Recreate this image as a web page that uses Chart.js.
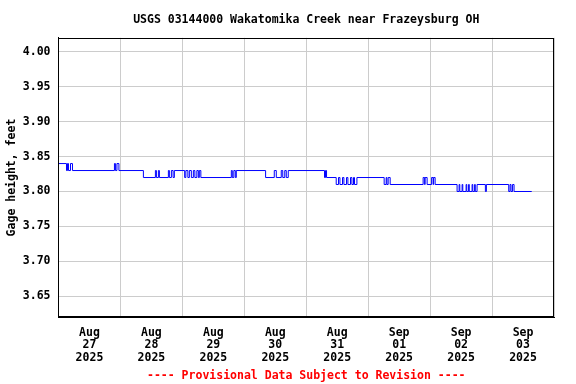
<!DOCTYPE html>
<html>
<head>
<meta charset="utf-8">
<title>USGS 03144000 Wakatomika Creek near Frazeysburg OH</title>
<script src="https://cdn.jsdelivr.net/npm/chart.js@4"></script>
<style>
    html, body { margin: 0; padding: 0; background: #fff; }
    #wrap { width: 576px; height: 384px; }
</style>
</head>
<body>
<div id="wrap"><canvas id="gage-chart" width="576" height="384"></canvas></div>
<script>
// Data: hours since Aug 27 2025 00:00 where the gage height changes, and the new value
const changeHours = [
    0, 3.10, 3.48, 3.87, 4.65, 5.42,
    21.68, 22.06, 22.65, 23.42,
    32.90, 37.55, 37.94, 38.71, 39.10,
    42.58, 42.97, 43.74, 44.40, 44.90,
    48.89, 49.35, 50.13, 50.71, 51.48, 52.26, 52.84, 53.61, 54.19, 54.58, 55.16,
    66.97, 67.35, 67.94, 68.52, 68.90,
    80.25, 83.61, 84.39, 86.32, 86.90, 87.68, 88.26, 89.03,
    103.08, 103.47, 103.86,
    107.61, 108.50, 109.05, 110.05, 110.59, 111.60, 112.14, 113.15, 113.69, 114.31, 114.70, 115.63,
    126.19, 126.97, 127.24, 127.74, 128.52,
    141.29, 141.87, 142.06, 142.84, 144.58, 145.16, 145.35, 145.94,
    154.45, 155.23, 155.50, 156.39, 156.66, 157.94, 158.21, 158.90, 159.17, 160.26, 160.53, 161.23, 161.50, 162.19,
    165.41, 165.80,
    174.46, 174.97, 175.35, 175.94, 176.52,
    183.37
];
const changeValues = [
    3.84, 3.83, 3.84, 3.83, 3.84, 3.83,
    3.84, 3.83, 3.84, 3.83,
    3.82, 3.83, 3.82, 3.83, 3.82,
    3.83, 3.82, 3.83, 3.82, 3.83,
    3.82, 3.83, 3.82, 3.83, 3.82, 3.83, 3.82, 3.83, 3.82, 3.83, 3.82,
    3.83, 3.82, 3.83, 3.82, 3.83,
    3.82, 3.83, 3.82, 3.83, 3.82, 3.83, 3.82, 3.83,
    3.82, 3.83, 3.82,
    3.81, 3.82, 3.81, 3.82, 3.81, 3.82, 3.81, 3.82, 3.81, 3.82, 3.81, 3.82,
    3.81, 3.82, 3.81, 3.82, 3.81,
    3.82, 3.81, 3.82, 3.81, 3.82, 3.81, 3.82, 3.81,
    3.80, 3.81, 3.80, 3.81, 3.80, 3.81, 3.80, 3.81, 3.80, 3.81, 3.80, 3.81, 3.80, 3.81,
    3.80, 3.81,
    3.80, 3.81, 3.80, 3.81, 3.80,
    3.80
];
const dayLabels = [
    ['Aug', '27', '2025'], ['Aug', '28', '2025'], ['Aug', '29', '2025'], ['Aug', '30', '2025'],
    ['Aug', '31', '2025'], ['Sep', '01', '2025'], ['Sep', '02', '2025'], ['Sep', '03', '2025']
];
const yTicks = [3.65, 3.70, 3.75, 3.80, 3.85, 3.90, 3.95, 4.00];

const FONT = { family: '"DejaVu Sans Mono", monospace', size: 11.5, weight: 'bold' };
const GRID = '#cccccc';

// frame around the plot area (top and right sides)
const frame = {
    id: 'frame',
    afterDraw(chart) {
        const { ctx, chartArea: a } = chart;
        ctx.save();
        ctx.strokeStyle = '#000';
        ctx.lineWidth = 1;
        ctx.strokeRect(Math.round(a.left) + 0.5, Math.round(a.top) + 0.5,
            Math.round(a.right - a.left) - 1, Math.round(a.bottom - a.top) - 1);
        ctx.restore();
    }
};

function init() {
    const ctx = document.getElementById('gage-chart').getContext('2d');
    new Chart(ctx, {
        type: 'line',
        data: {
            datasets: [{
                data: changeHours.map((h, i) => ({ x: h, y: changeValues[i] })),
                borderColor: '#0000ff',
                borderWidth: 1,
                pointRadius: 0,
                stepped: true,
                fill: false
            }]
        },
        options: {
            responsive: false,
            animation: false,
            devicePixelRatio: 1,
            layout: { padding: { left: 0, right: 22, top: 0, bottom: 0 } },
            plugins: {
                legend: { display: false },
                tooltip: { enabled: false }
            },
            scales: {
                // top axis only carries the chart title, centred over the plot
                xTop: {
                    type: 'linear',
                    position: 'top',
                    min: 0,
                    max: 192,
                    grid: { display: false, drawTicks: false },
                    border: { display: false },
                    ticks: { display: false },
                    title: {
                        display: true,
                        text: 'USGS 03144000 Wakatomika Creek near Frazeysburg OH',
                        color: '#000',
                        font: FONT,
                        padding: { top: 13, bottom: 11 }
                    }
                },
                x: {
                    type: 'linear',
                    min: 0,
                    max: 192,
                    afterBuildTicks: axis => {
                        axis.ticks = dayLabels.flatMap((d, i) => [{ value: i * 24 }, { value: i * 24 + 12 }])
                            .concat([{ value: 192 }]);
                    },
                    border: { color: '#000' },
                    grid: {
                        drawTicks: false,
                        color: c => (c.tick && c.tick.value % 24 === 0) ? GRID : 'rgba(0,0,0,0)'
                    },
                    ticks: {
                        autoSkip: false,
                        maxRotation: 0,
                        padding: 9,
                        color: '#000',
                        font: { ...FONT, lineHeight: 1.1 },
                        callback: v => (v % 24 === 12) ? dayLabels[(v - 12) / 24] : ''
                    },
                    title: {
                        display: true,
                        text: '---- Provisional Data Subject to Revision ----',
                        color: '#ff0000',
                        font: FONT,
                        padding: { top: -4, bottom: 1 }
                    }
                },
                y: {
                    min: 3.62,
                    max: 4.02,
                    afterBuildTicks: axis => { axis.ticks = yTicks.map(v => ({ value: v })); },
                    border: { color: '#000' },
                    grid: { drawTicks: false, color: GRID },
                    ticks: {
                        padding: 8,
                        color: '#000',
                        font: FONT,
                        callback: v => v.toFixed(2)
                    },
                    title: {
                        display: true,
                        text: 'Gage height, feet',
                        color: '#000',
                        font: FONT,
                        padding: { top: 5, bottom: -4 }
                    }
                }
            }
        },
        plugins: [frame]
    });
}

document.addEventListener('DOMContentLoaded', init);
</script>
</body>
</html>
